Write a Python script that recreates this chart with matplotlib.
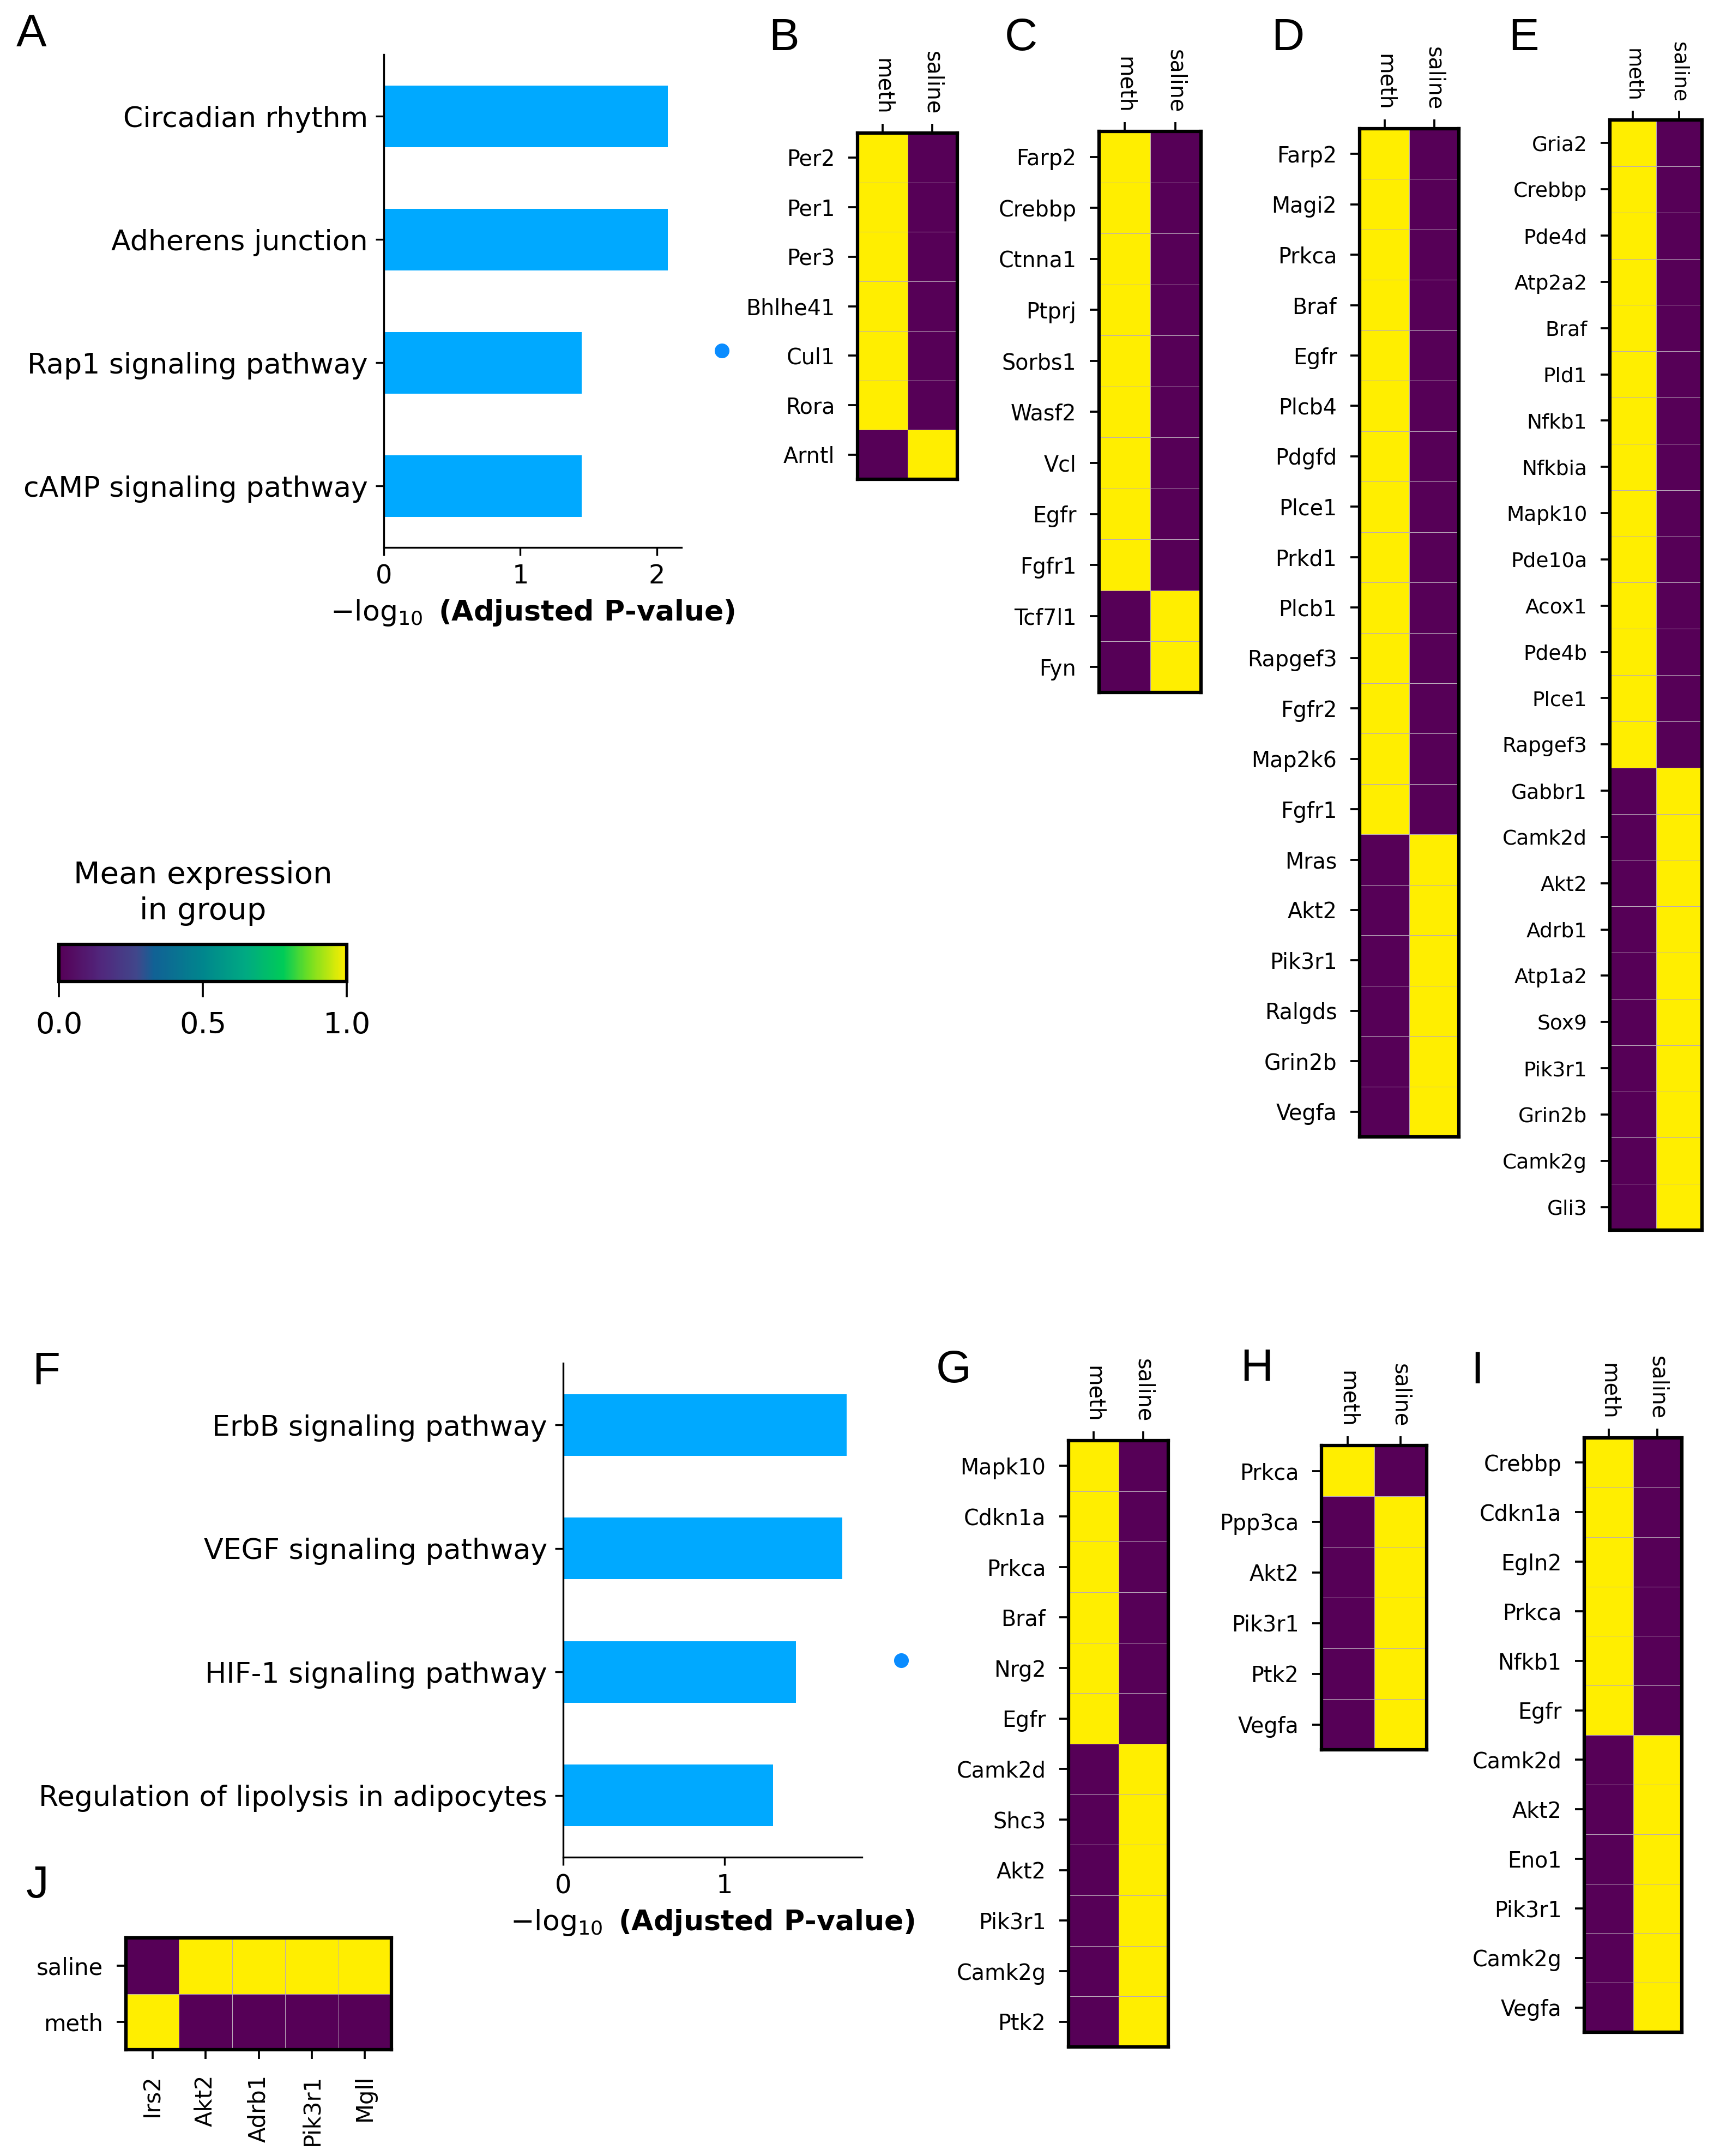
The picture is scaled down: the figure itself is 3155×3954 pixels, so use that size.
import numpy as np
import matplotlib
matplotlib.use("Agg")
import matplotlib.pyplot as plt
from matplotlib.colors import LinearSegmentedColormap
from matplotlib.lines import Line2D

W, H = 3155, 3954

# ---- enrichment bars (A, F) ----
terms_a = ["Circadian rhythm", "Adherens junction", "Rap1 signaling pathway", "cAMP signaling pathway"]
logp_a = [2.08, 2.08, 1.45, 1.45]
terms_f = ["ErbB signaling pathway", "VEGF signaling pathway", "HIF-1 signaling pathway",
           "Regulation of lipolysis in adipocytes"]
logp_f = [1.755, 1.73, 1.44, 1.30]

# ---- matrix plots ----
groups = ["meth", "saline"]

genes_b = ["Per2", "Per1", "Per3", "Bhlhe41", "Cul1", "Rora", "Arntl"]
meth_b = [1, 1, 1, 1, 1, 1, 0]
saline_b = [0, 0, 0, 0, 0, 0, 1]

genes_c = ["Farp2", "Crebbp", "Ctnna1", "Ptprj", "Sorbs1", "Wasf2", "Vcl", "Egfr", "Fgfr1", "Tcf7l1", "Fyn"]
meth_c = [1, 1, 1, 1, 1, 1, 1, 1, 1, 0, 0]
saline_c = [0, 0, 0, 0, 0, 0, 0, 0, 0, 1, 1]

genes_d = ["Farp2", "Magi2", "Prkca", "Braf", "Egfr", "Plcb4", "Pdgfd", "Plce1", "Prkd1", "Plcb1",
           "Rapgef3", "Fgfr2", "Map2k6", "Fgfr1", "Mras", "Akt2", "Pik3r1", "Ralgds", "Grin2b", "Vegfa"]
meth_d = [1, 1, 1, 1, 1, 1, 1, 1, 1, 1, 1, 1, 1, 1, 0, 0, 0, 0, 0, 0]
saline_d = [0, 0, 0, 0, 0, 0, 0, 0, 0, 0, 0, 0, 0, 0, 1, 1, 1, 1, 1, 1]

genes_e = ["Gria2", "Crebbp", "Pde4d", "Atp2a2", "Braf", "Pld1", "Nfkb1", "Nfkbia", "Mapk10", "Pde10a",
           "Acox1", "Pde4b", "Plce1", "Rapgef3", "Gabbr1", "Camk2d", "Akt2", "Adrb1", "Atp1a2", "Sox9",
           "Pik3r1", "Grin2b", "Camk2g", "Gli3"]
meth_e = [1, 1, 1, 1, 1, 1, 1, 1, 1, 1, 1, 1, 1, 1, 0, 0, 0, 0, 0, 0, 0, 0, 0, 0]
saline_e = [0, 0, 0, 0, 0, 0, 0, 0, 0, 0, 0, 0, 0, 0, 1, 1, 1, 1, 1, 1, 1, 1, 1, 1]

genes_g = ["Mapk10", "Cdkn1a", "Prkca", "Braf", "Nrg2", "Egfr", "Camk2d", "Shc3", "Akt2", "Pik3r1", "Camk2g", "Ptk2"]
meth_g = [1, 1, 1, 1, 1, 1, 0, 0, 0, 0, 0, 0]
saline_g = [0, 0, 0, 0, 0, 0, 1, 1, 1, 1, 1, 1]

genes_h = ["Prkca", "Ppp3ca", "Akt2", "Pik3r1", "Ptk2", "Vegfa"]
meth_h = [1, 0, 0, 0, 0, 0]
saline_h = [0, 1, 1, 1, 1, 1]

genes_i = ["Crebbp", "Cdkn1a", "Egln2", "Prkca", "Nfkb1", "Egfr", "Camk2d", "Akt2", "Eno1", "Pik3r1", "Camk2g", "Vegfa"]
meth_i = [1, 1, 1, 1, 1, 1, 0, 0, 0, 0, 0, 0]
saline_i = [0, 0, 0, 0, 0, 0, 1, 1, 1, 1, 1, 1]

genes_j = ["Irs2", "Akt2", "Adrb1", "Pik3r1", "Mgll"]
meth_j = [1, 0, 0, 0, 0]
saline_j = [0, 1, 1, 1, 1]

bar_color = "#00a9ff"
dot_color = "#0a8cff"
cmap = LinearSegmentedColormap.from_list("expr", [
    (0.0, "#560057"), (0.15, "#50287d"), (0.27, "#41478b"), (0.33, "#116195"),
    (0.5, "#00868d"), (0.65, "#00aa82"), (0.78, "#00cb58"), (0.87, "#70de22"), (1.0, "#ffee00")])

plt.rcParams["font.family"] = ["DejaVu Sans"]
plt.rcParams["mathtext.fontset"] = "dejavusans"

fig = plt.figure(figsize=(W / 300, H / 300), dpi=300)


def box(l, t, r, b):
    return [l / W, 1 - b / H, (r - l) / W, (b - t) / H]


def barplot(rect, terms, vals, xmax, xticks, dot_xy):
    ax = fig.add_axes(box(*rect))
    y = np.arange(len(terms))
    ax.barh(y, vals, height=0.5, color=bar_color)
    ax.set_yticks(y)
    ax.set_yticklabels(terms, fontsize=12.5)
    ax.set_ylim(len(terms) - 0.5, -0.5)
    ax.set_xlim(0, xmax)
    ax.set_xticks(xticks)
    ax.tick_params(axis="x", labelsize=11.5)
    for s in ["top", "right"]:
        ax.spines[s].set_visible(False)
    ax.set_xlabel(r"$- \log_{10}$ (Adjusted P-value)", fontsize=12.5, fontweight="bold")
    # stray legend marker left over in the original figure
    h = Line2D([], [], marker="o", ls="", color=dot_color, markersize=5.5)
    ax.legend(handles=[h], labels=[""], loc="center", bbox_to_anchor=dot_xy, frameon=False,
              handlelength=1, handletextpad=0, borderpad=0, borderaxespad=0)
    return ax


def matrix(rect, rows, cols, data, fs, top=True):
    ax = fig.add_axes(box(*rect))
    data = np.asarray(data, dtype=float)
    ax.pcolormesh(data, cmap=cmap, vmin=0, vmax=1, edgecolors="#b9a9b9", linewidth=0.15)
    ax.set_xlim(0, data.shape[1])
    ax.set_ylim(data.shape[0], 0)
    ax.set_yticks(np.arange(len(rows)) + 0.5)
    ax.set_yticklabels(rows, fontsize=fs)
    ax.set_xticks(np.arange(len(cols)) + 0.5)
    if top:
        ax.xaxis.tick_top()
        ax.set_xticklabels(cols, fontsize=fs, rotation=270)
        ax.tick_params(axis="x", pad=4)
    else:
        ax.set_xticklabels(cols, fontsize=fs, rotation=90)
        ax.tick_params(axis="x", pad=7)
    for s in ax.spines.values():
        s.set_linewidth(1.5)
    ax.tick_params(length=4, width=0.9)
    ax.tick_params(axis="y", pad=6)
    return ax


barplot((704, 100, 1250, 1004), terms_a, logp_a, 2.18, [0, 1, 2], (1.136, 0.396))
barplot((1033, 2500, 1581, 3406), terms_f, logp_f, 1.85, [0, 1], (1.131, 0.396))

matrix((1573, 244, 1756, 879), genes_b, groups, np.column_stack([meth_b, saline_b]), 9.5)
matrix((2016, 241, 2203, 1270), genes_c, groups, np.column_stack([meth_c, saline_c]), 9.5)
matrix((2494, 236, 2676, 2085), genes_d, groups, np.column_stack([meth_d, saline_d]), 9.5)
matrix((2953, 220, 3122, 2256), genes_e, groups, np.column_stack([meth_e, saline_e]), 9)
matrix((1960, 2642, 2143, 3754), genes_g, groups, np.column_stack([meth_g, saline_g]), 9.5)
matrix((2424, 2651, 2617, 3209), genes_h, groups, np.column_stack([meth_h, saline_h]), 9.5)
matrix((2906, 2637, 3085, 3727), genes_i, groups, np.column_stack([meth_i, saline_i]), 9.5)
matrix((231, 3554, 718, 3759), ["saline", "meth"], genes_j, np.vstack([saline_j, meth_j]), 10, top=False)

# colorbar
cax = fig.add_axes(box(108, 1732, 636, 1800))
sm = plt.cm.ScalarMappable(cmap=cmap, norm=plt.Normalize(0, 1))
cb = fig.colorbar(sm, cax=cax, orientation="horizontal", ticks=[0, 0.5, 1.0])
cb.outline.set_linewidth(1.5)
cax.tick_params(labelsize=13, length=7, width=0.9, pad=6)
cax.set_xticklabels(["0.0", "0.5", "1.0"])
cax.set_title("Mean expression\nin group", fontsize=13.5, pad=11, linespacing=1.3)

# panel letters
letters = [("A", 30, 85), ("B", 1410, 92), ("C", 1843, 92), ("D", 2332, 92), ("E", 2767, 92),
           ("F", 59, 2537), ("G", 1717, 2535), ("H", 2275, 2532), ("I", 2698, 2537), ("J", 48, 3480)]
for lab, x, y in letters:
    fig.text(x / W, 1 - y / H, lab, fontsize=20, va="baseline", ha="left",
             family=["Liberation Sans", "DejaVu Sans"])

fig.savefig("out.png", dpi=300)
